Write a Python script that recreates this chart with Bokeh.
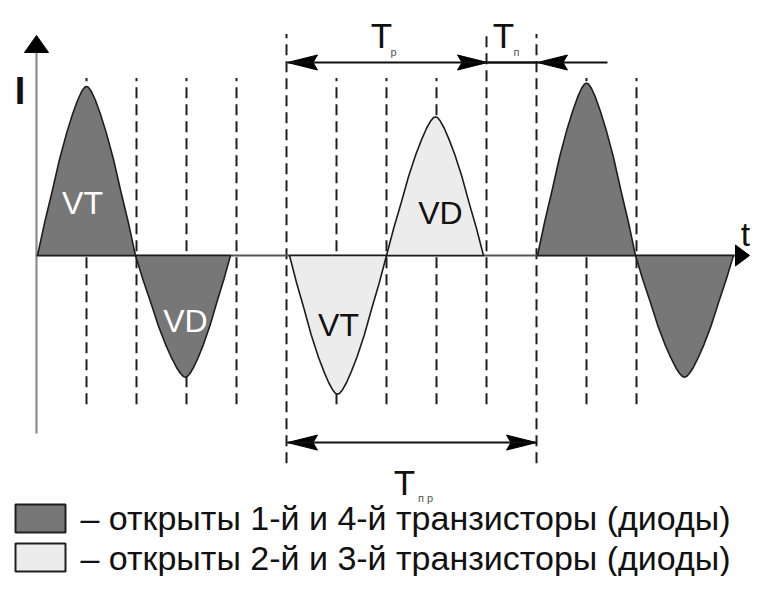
from bokeh.plotting import figure
from bokeh.models import Range1d
from bokeh.core.properties import value
from bokeh.embed import file_html
from bokeh.resources import INLINE

# ---------------- data (time in grid divisions, current relative to peak) ----------------
grid_t = [1, 2, 3, 4, 5, 6, 7, 8, 9, 10, 11, 12]
grid_top = [1.05, 1.05, 1.05, 1.05, 1.31, 1.05, 1.05, 1.05, 1.31, 1.31, 1.05, 1.05]
grid_bottom = [-0.88, -0.88, -0.88, -0.88, -1.23, -0.88, -0.88, -0.88, -0.88, -1.23, -0.88, -0.88]

hump_start = [0.02, 1.98, 5.06, 7.0, 10.02, 11.98]
hump_peak = [1.0, 2.98, 6.02, 7.98, 11.0, 12.96]
hump_end = [1.98, 3.88, 7.0, 8.94, 11.98, 13.94]
hump_amp = [1.0, -0.72, -0.82, 0.82, 1.02, -0.72]
hump_kind = ["dark", "dark", "light", "light", "dark", "dark"]

# half-wave shape (fraction of rise time -> fraction of peak)
profile_u = [0.0, 0.15, 0.3, 0.45, 0.6, 0.72, 0.82, 0.9, 0.96, 1.0]
profile_v = [0.0, 0.2, 0.38, 0.57, 0.73, 0.84, 0.92, 0.97, 0.995, 1.0]

hump_labels = ["VT", "VD", "VT", "VD"]
hump_label_t = [0.92, 2.98, 6.04, 8.08]
hump_label_y = [0.308, -0.385, -0.414, 0.249]
hump_label_color = ["#ffffff", "#ffffff", "#111111", "#111111"]

# dimension arrows
tp_span = [5.02, 9.02]
tn_span = [9.02, 10.02]
tn_tail = 11.42
tpr_span = [5.02, 10.0]
dim_level_top = 1.142
dim_level_bottom = -1.107

dim_main = ["T", "T", "T"]
dim_main_t = [6.9, 9.34, 7.36]
dim_main_y = [1.302, 1.302, -1.343]
dim_sub = ["р", "п", "п р"]
dim_sub_t = [7.14, 9.6, 7.78]
dim_sub_y = [1.207, 1.207, -1.432]

axis_t_end = 14.26
axis_y_top = 1.302
axis_y_bottom = -1.053

legend_labels = ["– открыты 1-й и 4-й транзисторы (диоды)",
                 "– открыты 2-й и 3-й транзисторы (диоды)"]
legend_kind = ["dark", "light"]
legend_row_y = [-1.556, -1.787]   # centres of the legend swatches

# ---------------- style ----------------
DARK = "#777777"
LIGHT = "#ececec"
INK = "#1e1e1e"
FONT = "Liberation Sans"
PX_T = 50.0   # pixels per time division
PX_Y = 169.0  # pixels per unit current

W, H = 750, 576
x0 = -36.0 / PX_T
y_top = 255.0 / PX_Y
p = figure(width=W, height=H, output_backend="svg", toolbar_location=None,
           x_range=Range1d(x0, x0 + W / PX_T), y_range=Range1d(y_top - H / PX_Y, y_top),
           min_border=0, x_axis_location=None, y_axis_location=None,
           background_fill_color="white", border_fill_color="white")
p.outline_line_color = None
p.xgrid.visible = False
p.ygrid.visible = False

# dashed division lines (drawn first: hidden behind the filled humps)
p.segment(x0=grid_t, y0=grid_bottom, x1=grid_t, y1=grid_top,
          line_color=INK, line_width=2, line_dash="11 6")

# axes lines
p.segment(x0=[0.0], y0=[axis_y_bottom], x1=[0.0], y1=[axis_y_top - 17 / PX_Y],
          line_color="#8a8a8a", line_width=2.2)
p.segment(x0=[0.0], y0=[0.0], x1=[axis_t_end - 14 / PX_T], y1=[0.0],
          line_color="#555555", line_width=2.2)

# humps
def hump_shape(s, pk, e, a):
    xs = [s + u * (pk - s) for u in profile_u]
    ys = [a * v for v in profile_v]
    for u, v in zip(reversed(profile_u[:-1]), reversed(profile_v[:-1])):
        xs.append(e - u * (e - pk))
        ys.append(a * v)
    return xs, ys

fills = {"dark": DARK, "light": LIGHT}
for kind in ("dark", "light"):
    xs, ys = [], []
    for s, pk, e, a, k in zip(hump_start, hump_peak, hump_end, hump_amp, hump_kind):
        if k == kind:
            hx, hy = hump_shape(s, pk, e, a)
            xs.append(hx)
            ys.append(hy)
    p.patches(xs, ys, fill_color=fills[kind], line_color=INK, line_width=1.6,
              line_join="round")

p.text(x=hump_label_t, y=hump_label_y, text=hump_labels, text_color=hump_label_color,
       text_font=value(FONT), text_font_size="32px", text_align="center",
       text_baseline="alphabetic")

# arrow heads
def head(tx, ty, dx, dy, length, width, notch):
    # (dx, dy): unit direction in pixel space pointing to the tip
    px, py = -dy, dx
    pts = [(0, 0),
           (-dx * length + px * width / 2, -dy * length + py * width / 2),
           (-dx * length * notch, -dy * length * notch),
           (-dx * length - px * width / 2, -dy * length - py * width / 2)]
    return [tx + a / PX_T for a, b in pts], [ty + b / PX_Y for a, b in pts]

heads = [
    head(tp_span[0], dim_level_top, -1, 0, 30, 15, 0.85),
    head(tp_span[1], dim_level_top, 1, 0, 30, 15, 0.85),
    head(tn_span[1], dim_level_top, -1, 0, 30, 15, 0.85),
    head(tpr_span[0], dim_level_bottom, -1, 0, 30, 15, 0.85),
    head(tpr_span[1], dim_level_bottom, 1, 0, 30, 15, 0.85),
    head(0.0, axis_y_top, 0, 1, 17, 24, 1.0),
    head(axis_t_end, 0.0, 1, 0, 14, 21, 1.0),
]
p.patches([h[0] for h in heads], [h[1] for h in heads], fill_color="#000000",
          line_color="#000000", line_width=1)

p.segment(x0=[tp_span[0], tn_span[0], tpr_span[0]],
          y0=[dim_level_top, dim_level_top, dim_level_bottom],
          x1=[tn_tail, tn_span[1], tpr_span[1]],
          y1=[dim_level_top, dim_level_top, dim_level_bottom],
          line_color="#111111", line_width=2)

p.text(x=dim_main_t, y=dim_main_y, text=dim_main, text_color="#111111",
       text_font=value(FONT), text_font_size="35px", text_align="center",
       text_baseline="alphabetic")
p.text(x=dim_sub_t, y=dim_sub_y, text=dim_sub, text_color="#555555",
       text_font=value(FONT), text_font_size="11px", text_align="center",
       text_baseline="middle")

# axis names
p.text(x=[-0.33], y=[0.976], text=["I"], text_color="#111111", text_font=value(FONT),
       text_font_size="38px", text_font_style="bold", text_align="center",
       text_baseline="alphabetic")
p.text(x=[14.18], y=[0.13], text=["t"], text_color="#111111", text_font=value(FONT),
       text_font_size="34px", text_align="center", text_baseline="alphabetic")

# legend (swatch + explanation)
sw_x = [0.08] * len(legend_kind)
p.rect(x=sw_x, y=legend_row_y, width=50 / PX_T, height=28 / PX_Y,
       fill_color=[fills[k] for k in legend_kind], line_color=INK, line_width=2)
p.text(x=[0.88] * len(legend_labels), y=legend_row_y, text=legend_labels,
       text_color="#111111", text_font=value(FONT), text_font_size="34px",
       text_align="left", text_baseline="middle")

open("out.html", "w").write(file_html(p, INLINE))
